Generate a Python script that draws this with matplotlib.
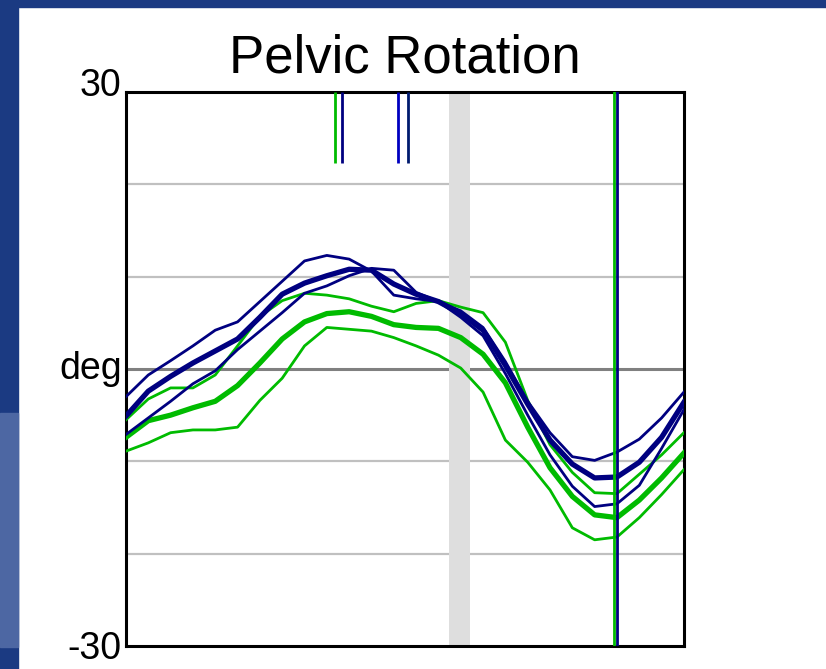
import matplotlib
matplotlib.use("Agg")
import matplotlib.pyplot as plt
from matplotlib.patches import Rectangle

plt.rcParams['font.family'] = ['Liberation Sans', 'DejaVu Sans']

# % gait cycle
pct = [0, 4, 8, 12, 16, 20, 24, 28, 32, 36, 40, 44, 48, 52, 56, 60, 64, 68, 72, 76, 80, 84, 88, 92, 96, 100]

# navy (side A) mean and +/- 1 SD
navy_mean = [-5.1, -2.4, -0.8, 0.65, 1.95, 3.25, 5.6, 8.1, 9.3, 10.1, 10.8, 10.7, 9.2, 8.1, 7.3, 6.0, 4.2, 0.4, -3.8, -7.7, -10.3, -11.8, -11.7, -10.1, -7.4, -3.6]
navy_hi = [-3.0, -0.65, 0.9, 2.5, 4.2, 5.1, 7.3, 9.5, 11.7, 12.3, 11.9, 10.6, 8.0, 7.6, 7.3, 6.3, 4.5, 0.8, -3.5, -6.9, -9.5, -9.9, -9.0, -7.6, -5.3, -2.5]
navy_lo = [-7.1, -5.3, -3.5, -1.6, -0.2, 2.1, 4.1, 6.1, 8.2, 9.0, 10.1, 10.9, 10.7, 8.3, 7.3, 5.6, 3.6, -0.5, -5.0, -9.3, -12.7, -14.9, -14.6, -12.6, -8.6, -4.4]

# green (side B) mean and +/- 1 SD
green_mean = [-7.4, -5.6, -5.0, -4.2, -3.5, -1.8, 0.65, 3.25, 5.1, 6.0, 6.2, 5.7, 4.8, 4.5, 4.4, 3.4, 1.6, -1.5, -6.3, -10.7, -13.8, -15.8, -16.1, -14.2, -11.8, -9.1]
green_hi = [-5.5, -3.25, -2.05, -2.05, -0.65, 2.5, 5.7, 7.4, 8.2, 8.0, 7.6, 6.8, 6.2, 7.1, 7.4, 6.7, 6.1, 2.9, -3.4, -8.2, -11.2, -13.4, -13.5, -11.4, -9.3, -6.9]
green_lo = [-8.9, -8.0, -6.9, -6.6, -6.6, -6.3, -3.4, -1.0, 2.5, 4.5, 4.3, 4.1, 3.4, 2.5, 1.5, 0.1, -2.5, -7.7, -10.1, -13.1, -17.2, -18.5, -18.2, -16.1, -13.6, -10.9]

# gait events (% cycle)
short_events = [37.5, 38.8, 48.7, 50.5]
short_colors = ['#00bb00', '#000080', '#0000c0', '#001a6e']
toe_off_band = (57.9, 61.6)
foot_off = [87.5, 88.0]
foot_off_colors = ['#00bb00', '#000080']

navy = '#000080'
green = '#00bb00'

fig = plt.figure(figsize=(8.26, 6.69), dpi=100)
fig.patch.set_facecolor('white')
# slide background frame
fig.patches.append(Rectangle((0, 0.99), 1, 0.02, transform=fig.transFigure, color='#1b3a82', zorder=0))
fig.patches.append(Rectangle((0, 0), 0.022, 1, transform=fig.transFigure, color='#1b3a82', zorder=0))
fig.patches.append(Rectangle((0, 0.033), 0.022, 0.35, transform=fig.transFigure, color='#4d67a3', zorder=0))

ax = fig.add_axes([0.1525, 0.0344, 0.6755, 0.8281])
ax.set_xlim(0, 100)
ax.set_ylim(-30, 30)

for g in [20, 10, -10, -20]:
    ax.axhline(g, color='#c0c0c0', lw=1.6, zorder=1)
ax.axhline(0, color='#808080', lw=2.2, zorder=1)

ax.axvspan(toe_off_band[0], toe_off_band[1], color='#dedede', lw=0, zorder=1)

ax.plot(pct, green_hi, color=green, lw=2.0, zorder=3)
ax.plot(pct, green_lo, color=green, lw=2.0, zorder=3)
ax.plot(pct, green_mean, color=green, lw=3.8, zorder=3)
ax.plot(pct, navy_hi, color=navy, lw=2.0, zorder=4)
ax.plot(pct, navy_lo, color=navy, lw=2.0, zorder=4)
ax.plot(pct, navy_mean, color=navy, lw=3.8, zorder=4)

for x, c in zip(short_events, short_colors):
    ax.plot([x, x], [22.3, 30], color=c, lw=2, zorder=5, solid_capstyle='butt')
for x, c in zip(foot_off, foot_off_colors):
    ax.axvline(x, color=c, lw=2, zorder=5)

ax.set_xticks([])
ax.set_yticks([])
for s in ax.spines.values():
    s.set_linewidth(2.2)
    s.set_color('black')

ax.text(-0.008, 0.993, '30', transform=ax.transAxes, ha='right', va='baseline', fontsize=27)
ax.text(-0.008, 0.5, 'deg', transform=ax.transAxes, ha='right', va='center', fontsize=27)
ax.text(-0.008, -0.006, '-30', transform=ax.transAxes, ha='right', va='center', fontsize=27)
ax.set_title('Pelvic Rotation', fontsize=38, pad=14)

fig.savefig('out.png', dpi=100)
